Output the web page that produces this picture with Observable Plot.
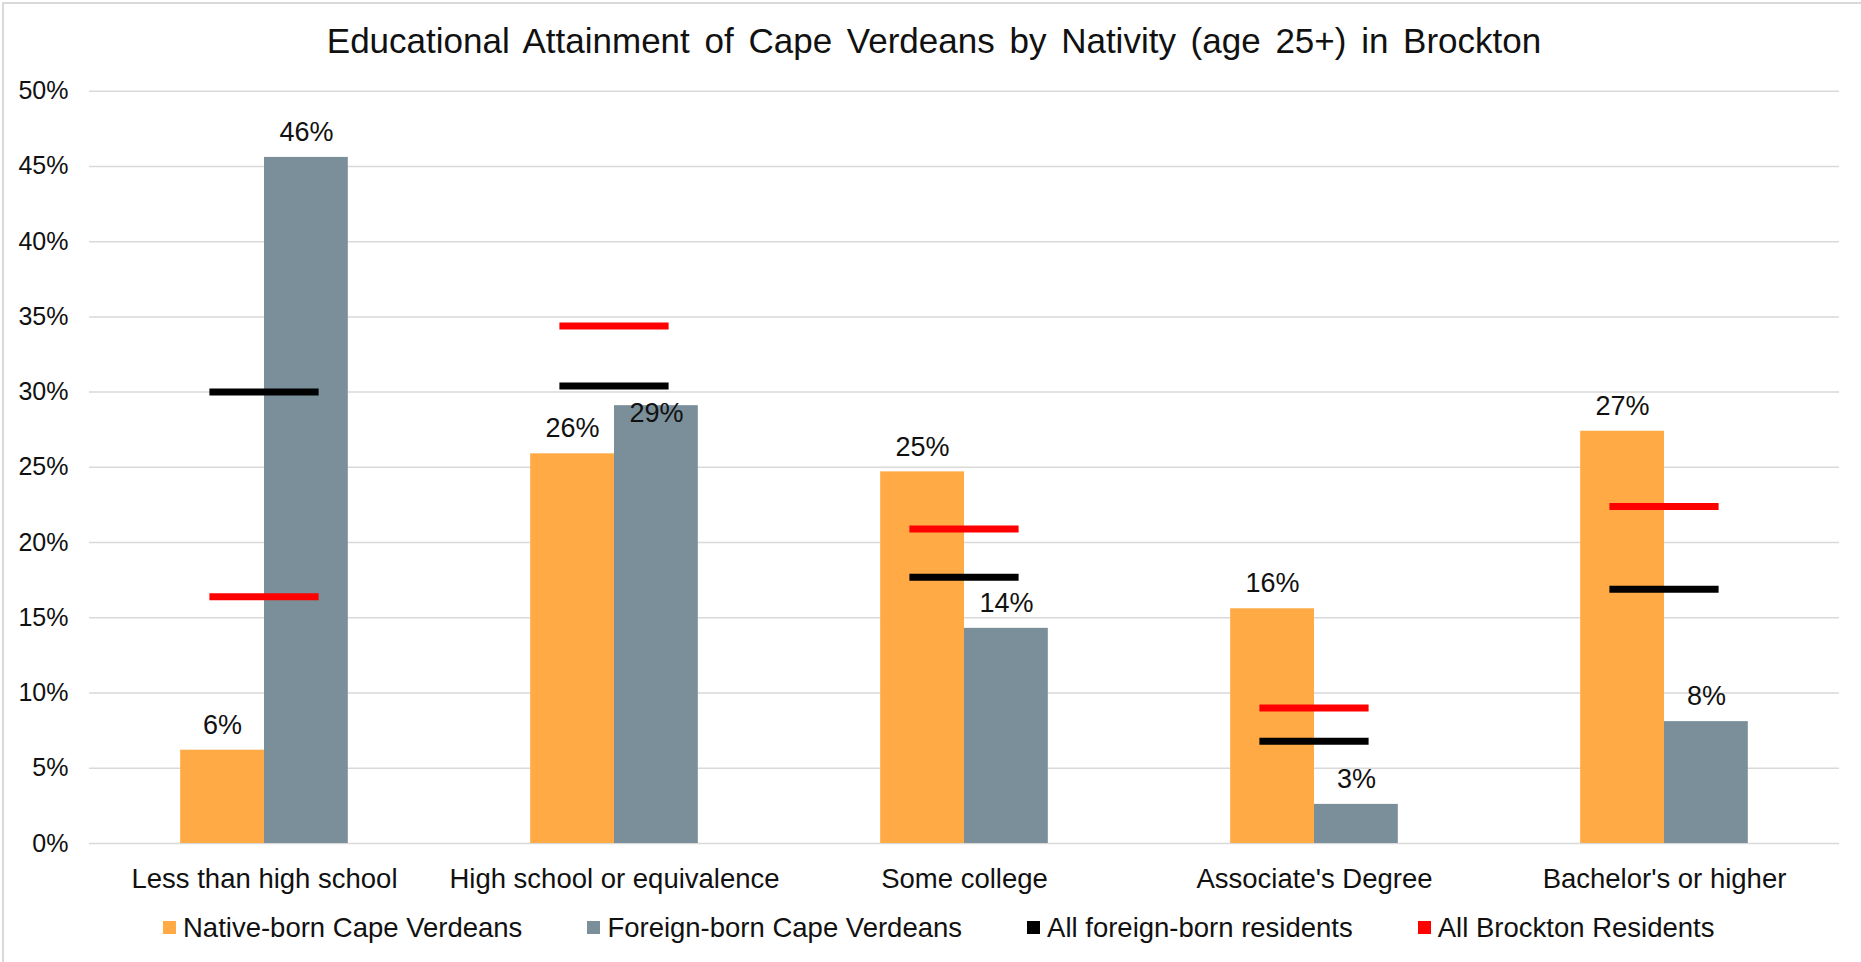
<!DOCTYPE html>
<html>
<head>
<meta charset="utf-8">
<script src="https://cdn.jsdelivr.net/npm/d3@7"></script>
<script src="https://cdn.jsdelivr.net/npm/@observablehq/plot@0.6"></script>
<style>
  html, body { margin: 0; padding: 0; background: #fff; }
  #wrap { position: relative; width: 1861px; height: 962px; overflow: hidden; background: #fff;
          font-family: "Liberation Sans", Arial, sans-serif; color: #111; }
  #frame { position: absolute; left: 2px; top: 2px; right: -10px; bottom: -10px;
           border-top: 2px solid #d9d9d9; border-left: 2px solid #d9d9d9; }
  #title { position: absolute; left: 0; width: 1868px; top: 23px; text-align: center;
           font-size: 35px; line-height: 35px; word-spacing: 5px; white-space: nowrap; }
  #chart { position: absolute; left: 0; top: 70px; }
  #legend { position: absolute; left: 163px; top: 914px; display: flex; align-items: center;
            gap: 65px; font-size: 27.5px; line-height: 27.5px; white-space: nowrap; }
  .item { display: flex; align-items: center; }
  .sw { width: 13px; height: 13px; margin-right: 7px; }
</style>
</head>
<body>
<div id="wrap">
  <div id="frame"></div>
  <div id="title"></div>
  <div id="chart"></div>
  <div id="legend"></div>
</div>
<script>
const titleText = "Educational Attainment of Cape Verdeans by Nativity (age 25+) in Brockton";
const categories = ["Less than high school", "High school or equivalence", "Some college", "Associate's Degree", "Bachelor's or higher"];
const seriesNames = ["Native-born Cape Verdeans", "Foreign-born Cape Verdeans", "All foreign-born residents", "All Brockton Residents"];
const seriesColors = ["#FFAA44", "#7A8F99", "#000000", "#FF0000"];
const nativeBorn = [6.2, 25.9, 24.7, 15.6, 27.4];
const foreignBorn = [45.6, 29.1, 14.3, 2.6, 8.1];
const allForeign = [30.0, 30.4, 17.7, 6.8, 16.9];
const allBrockton = [16.4, 34.4, 20.9, 9.0, 22.4];
const yTicks = [0, 5, 10, 15, 20, 25, 30, 35, 40, 45, 50];

document.getElementById("title").textContent = titleText;

const bars = categories.flatMap((c, i) => [
  {category: c, series: seriesNames[0], value: nativeBorn[i]},
  {category: c, series: seriesNames[1], value: foreignBorn[i]}
]);
const markers = categories.flatMap((c, i) => [
  {category: c, series: seriesNames[2], value: allForeign[i]},
  {category: c, series: seriesNames[3], value: allBrockton[i]}
]);
// Excel nudged one label into its bar to avoid the marker above it
const nudged = d => d.category === categories[1] && d.series === seriesNames[1];

const W = 1861, H = 830;
const chart = Plot.plot({
  width: W,
  height: H,
  marginLeft: 87,
  marginRight: 20,
  marginTop: 20.7,
  marginBottom: 57,
  style: {fontFamily: '"Liberation Sans", Arial, sans-serif', color: "#111", background: "transparent"},
  fx: {domain: categories, padding: 0, label: null},
  x: {domain: seriesNames.slice(0, 2), paddingInner: 0, paddingOuter: 1.088, round: false, axis: null},
  y: {domain: [0, 50], label: null},
  color: {domain: seriesNames, range: seriesColors},
  marks: [
    Plot.ruleY(yTicks, {stroke: "#d9d9d9", strokeWidth: 1.5}),
    Plot.barY(bars, {fx: "category", x: "series", y: "value", fill: "series", inset: 0}),
    Plot.tickY(markers, {fx: "category", y: "value", stroke: "series", strokeWidth: 7, insetLeft: 120.4, insetRight: 120.4}),
    Plot.text(bars.filter(d => !nudged(d)), {fx: "category", x: "series", y: "value",
      text: d => Math.round(d.value) + "%", dy: -25, fontSize: 27, fill: "#111"}),
    Plot.text(bars.filter(nudged), {fx: "category", x: "series", y: "value",
      text: d => Math.round(d.value) + "%", dy: 8, fontSize: 27, fill: "#111"}),
    Plot.axisY({ticks: yTicks, tickFormat: d => d + "%", tickSize: 0, tickPadding: 21, fontSize: 25, label: null}),
    Plot.axisFx({anchor: "bottom", tickSize: 0, tickPadding: 25, fontSize: 27.5, label: null})
  ]
});
document.getElementById("chart").appendChild(chart);

const legend = document.getElementById("legend");
seriesNames.forEach((name, i) => {
  const item = document.createElement("div");
  item.className = "item";
  const sw = document.createElement("span");
  sw.className = "sw";
  sw.style.background = seriesColors[i];
  const label = document.createElement("span");
  label.textContent = name;
  item.appendChild(sw);
  item.appendChild(label);
  legend.appendChild(item);
});
</script>
</body>
</html>
